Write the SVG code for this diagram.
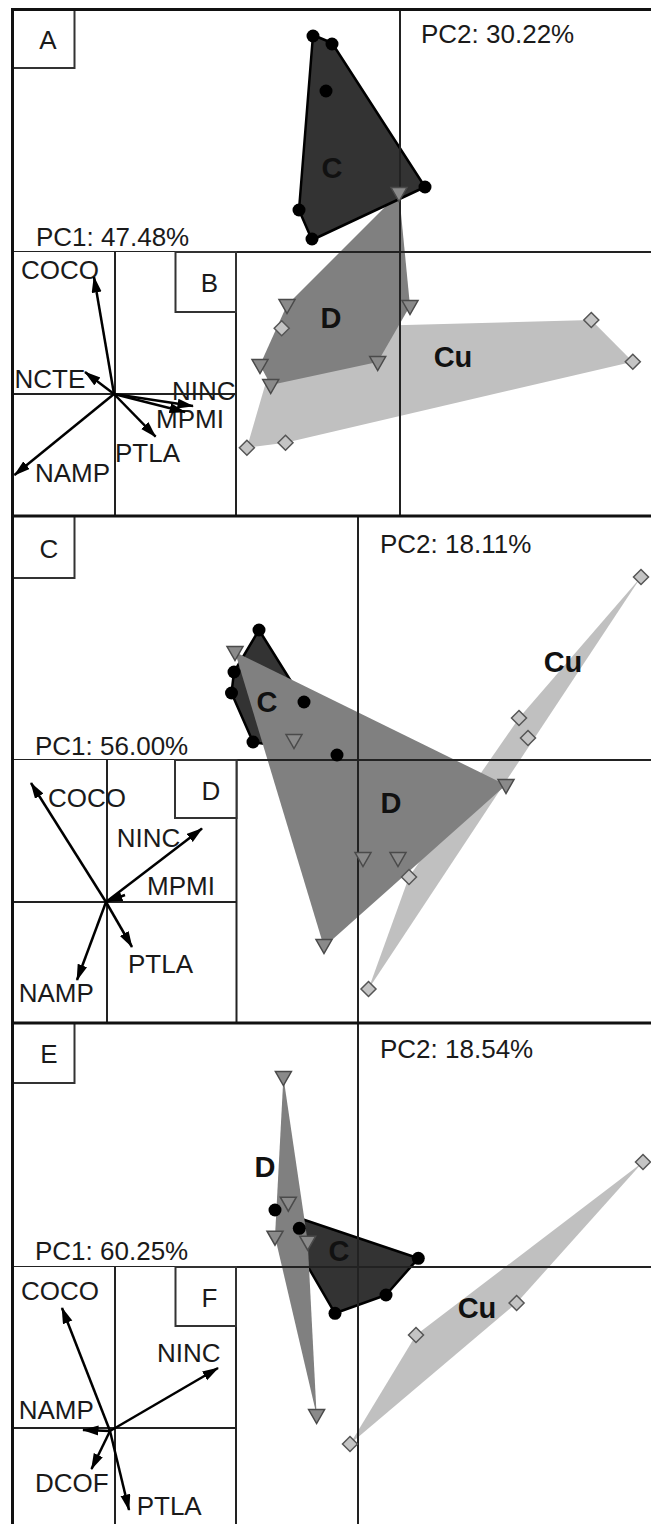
<svg xmlns="http://www.w3.org/2000/svg" width="651" height="1524" viewBox="0 0 651 1524">
<defs>
<style>
.t{font-family:"Liberation Sans",Arial,Helvetica,sans-serif;font-size:26px;fill:#1a1a1a}
.m{text-anchor:middle}
.g{font-family:"Liberation Sans",Arial,Helvetica,sans-serif;font-size:29px;font-weight:bold;fill:#111;text-anchor:middle}
.frame{stroke:#111;stroke-width:3;fill:none}
.ax{stroke:#222;stroke-width:2;fill:none}
.box{stroke:#333;stroke-width:2;fill:#fff}
.cu{fill:#c0c0c0}
.d{fill:#808080}
.c{fill:#333;stroke:#000;stroke-width:2.5;stroke-linejoin:round}
.arr{stroke:#000;stroke-width:2.5;fill:none;marker-end:url(#ah)}
.dot{fill:#000}
</style>
<marker id="ah" markerUnits="userSpaceOnUse" markerWidth="18" markerHeight="12" refX="15.5" refY="5" orient="auto"><path d="M0,0 L16.5,5 L0,10 z" fill="#000"/></marker>
<path id="tri" d="M-8,-5.5 L8,-5.5 L0,8.5 z" fill="#8a8a8a" stroke="#4a4a4a" stroke-width="1.5"/>
<path id="dia" d="M0,-7.5 L7.5,0 L0,7.5 L-7.5,0 z" fill="#c4c4c4" stroke="#555" stroke-width="1.5"/>
</defs>
<rect x="0" y="0" width="651" height="1524" fill="#fff"/>

<!-- Panel A -->
<g id="panelA">
<polygon class="cu" points="281.7,328.3 591.3,320 632.8,361.7 285.5,442.7 246.9,447.7"/>
<polygon class="d" points="399,193 410,306 377.7,362 270.7,385 260,365 287,305"/>
<polygon class="c" points="313,35 332,43 425,187 312,240 299,210"/>
<line class="ax" x1="400" y1="9.5" x2="400" y2="516"/>
<line class="ax" x1="12.5" y1="252" x2="651" y2="252"/>
<rect class="box" x="12.5" y="9.5" width="62" height="58.5"/>
<text class="t m" x="48" y="49">A</text>
<text class="t" x="421" y="43">PC2: 30.22%</text>
<text class="t" x="36" y="246">PC1: 47.48%</text>
<g id="A_markers">
<use href="#tri" x="399" y="193"/>
<use href="#tri" x="287" y="305"/>
<use href="#tri" x="410" y="306"/>
<use href="#tri" x="260" y="365"/>
<use href="#tri" x="270.7" y="385"/>
<use href="#tri" x="377.7" y="362"/>
<use href="#dia" x="281.7" y="328.3"/>
<use href="#dia" x="591.3" y="320"/>
<use href="#dia" x="632.8" y="361.7"/>
<use href="#dia" x="285.5" y="442.7"/>
<use href="#dia" x="246.9" y="447.7"/>
<circle class="dot" cx="313" cy="36" r="6.5"/>
<circle class="dot" cx="332" cy="44" r="6.5"/>
<circle class="dot" cx="326" cy="91" r="6.5"/>
<circle class="dot" cx="425" cy="187" r="6.5"/>
<circle class="dot" cx="299" cy="210" r="6.5"/>
<circle class="dot" cx="312" cy="239" r="6.5"/>
</g>
<text class="g" x="332" y="178">C</text>
<text class="g" x="331" y="328">D</text>
<text class="g" x="453" y="367">Cu</text>
</g>

<!-- Inset B -->
<g id="insetB">
<rect x="12.5" y="252" width="223.5" height="264" fill="#fff" stroke="none"/>
<line class="ax" x1="236" y1="252" x2="236" y2="516"/>
<line class="ax" x1="115" y1="252" x2="115" y2="516"/>
<line class="ax" x1="12.5" y1="394" x2="236" y2="394"/>
<rect class="box" x="175.5" y="252" width="60.5" height="60"/>
<text class="t m" x="209.5" y="292">B</text>
<text class="t" x="21" y="279">COCO</text>
<text class="t" x="14.5" y="388">NCTE</text>
<text class="t" x="172" y="400">NINC</text>
<text class="t" x="156" y="428">MPMI</text>
<text class="t" x="115" y="462">PTLA</text>
<text class="t" x="35" y="482">NAMP</text>
</g>

<!-- Panel C -->
<g id="panelC">
<polygon class="cu" points="368.5,989 409,877 519,718 641,577"/>
<polygon class="c" points="259,630 337,755 253,742 231.5,693 234,672"/>
<polygon class="d" points="235,652 506,785 324,947"/>
<line class="ax" x1="358" y1="516" x2="358" y2="1023"/>
<line class="ax" x1="12.5" y1="760" x2="651" y2="760"/>
<rect class="box" x="12.5" y="516" width="62" height="62"/>
<text class="t m" x="49" y="558">C</text>
<text class="t" x="380" y="553">PC2: 18.11%</text>
<text class="t" x="35" y="755">PC1: 56.00%</text>
<g id="C_markers">
<use href="#tri" x="235" y="652"/>
<use href="#tri" x="294" y="740"/>
<use href="#tri" x="506" y="785"/>
<use href="#tri" x="363" y="858"/>
<use href="#tri" x="398" y="858"/>
<use href="#tri" x="324" y="945"/>
<use href="#dia" x="641" y="577"/>
<use href="#dia" x="519" y="718"/>
<use href="#dia" x="528" y="738"/>
<use href="#dia" x="409" y="877"/>
<use href="#dia" x="368.5" y="989"/>
<circle class="dot" cx="259" cy="630" r="6.5"/>
<circle class="dot" cx="234" cy="672" r="6.5"/>
<circle class="dot" cx="231.5" cy="693" r="6.5"/>
<circle class="dot" cx="253" cy="742" r="6.5"/>
<circle class="dot" cx="304" cy="702" r="6.5"/>
<circle class="dot" cx="337" cy="755" r="6.5"/>
</g>
<text class="g" x="267" y="712">C</text>
<text class="g" x="391" y="813">D</text>
<text class="g" x="563" y="672">Cu</text>
</g>

<!-- Inset D -->
<g id="insetD">
<rect x="12.5" y="760" width="224" height="263" fill="#fff" stroke="none"/>
<line class="ax" x1="236.5" y1="760" x2="236.5" y2="1023"/>
<line class="ax" x1="107" y1="760" x2="107" y2="1023"/>
<line class="ax" x1="12.5" y1="902" x2="236.5" y2="902"/>
<rect class="box" x="175" y="760" width="61.5" height="58"/>
<text class="t m" x="211" y="800">D</text>
<text class="t" x="48" y="807">COCO</text>
<text class="t" x="116.7" y="847">NINC</text>
<text class="t" x="147" y="895">MPMI</text>
<text class="t" x="128" y="973">PTLA</text>
<text class="t" x="18.7" y="1002">NAMP</text>
</g>

<!-- Panel E -->
<g id="panelE">
<polygon class="cu" points="350,1444 416,1335 643,1162 516.6,1303"/>
<polygon class="c" points="275,1210 418.3,1258.3 386,1295 335,1313.3"/>
<polygon class="d" points="283.4,1077 307.7,1241.7 316.6,1415 275,1236.7"/>
<line class="ax" x1="358" y1="1023" x2="358" y2="1524"/>
<line class="ax" x1="12.5" y1="1267" x2="651" y2="1267"/>
<rect class="box" x="12.5" y="1023" width="62" height="60"/>
<text class="t m" x="49" y="1063">E</text>
<text class="t" x="380" y="1058">PC2: 18.54%</text>
<text class="t" x="35" y="1260">PC1: 60.25%</text>
<g id="E_markers">
<use href="#tri" x="283.4" y="1077"/>
<use href="#tri" x="288.3" y="1202.7"/>
<use href="#tri" x="275" y="1236.7"/>
<use href="#tri" x="307.7" y="1241.7"/>
<use href="#tri" x="316.6" y="1415"/>
<use href="#dia" x="643" y="1162"/>
<use href="#dia" x="516.6" y="1303"/>
<use href="#dia" x="416" y="1335"/>
<use href="#dia" x="350" y="1444"/>
<circle class="dot" cx="275" cy="1210" r="6.5"/>
<circle class="dot" cx="299.3" cy="1228.3" r="6.5"/>
<circle class="dot" cx="418.3" cy="1258.3" r="6.5"/>
<circle class="dot" cx="386" cy="1295" r="6.5"/>
<circle class="dot" cx="335" cy="1313.3" r="6.5"/>
</g>
<text class="g" x="339" y="1261">C</text>
<text class="g" x="265" y="1177">D</text>
<text class="g" x="477" y="1318">Cu</text>
</g>

<!-- Inset F -->
<g id="insetF">
<rect x="12.5" y="1267" width="223.5" height="257" fill="#fff" stroke="none"/>
<line class="ax" x1="236" y1="1267" x2="236" y2="1524"/>
<line class="ax" x1="115" y1="1267" x2="115" y2="1524"/>
<line class="ax" x1="12.5" y1="1428" x2="236" y2="1428"/>
<rect class="box" x="175.5" y="1267" width="60.5" height="59"/>
<text class="t m" x="209.5" y="1307">F</text>
<text class="t" x="21" y="1300">COCO</text>
<text class="t" x="157" y="1362">NINC</text>
<text class="t" x="18.7" y="1419">NAMP</text>
<text class="t" x="35" y="1492">DCOF</text>
<text class="t" x="136.7" y="1515">PTLA</text>
</g>

<!-- Loading arrows -->
<g id="arrows">
<line class="arr" x1="114" y1="394" x2="94" y2="277"/>
<line class="arr" x1="114" y1="394" x2="85" y2="372"/>
<line class="arr" x1="114" y1="394" x2="193" y2="406"/>
<line class="arr" x1="114" y1="394" x2="185" y2="412"/>
<line class="arr" x1="114" y1="394" x2="155.6" y2="436.7"/>
<line class="arr" x1="114" y1="394" x2="14.5" y2="475"/>

<line class="arr" x1="106" y1="902" x2="31" y2="783"/>
<line class="arr" x1="106" y1="902" x2="202" y2="828.5"/>
<line class="arr" x1="125" y1="895" x2="107" y2="901.5"/>
<line class="arr" x1="106" y1="902" x2="132" y2="947"/>
<line class="arr" x1="106" y1="902" x2="77" y2="980"/>

<line class="arr" x1="110" y1="1431" x2="62" y2="1308"/>
<line class="arr" x1="110" y1="1431" x2="218" y2="1368"/>
<line class="arr" x1="110" y1="1431" x2="83" y2="1430"/>
<line class="arr" x1="110" y1="1431" x2="91.5" y2="1469"/>
<line class="arr" x1="110" y1="1431" x2="129" y2="1510"/>
</g>

<!-- Frame -->
<g id="frame">
<line class="frame" x1="11" y1="9.5" x2="651" y2="9.5"/>
<line class="frame" x1="12.5" y1="8" x2="12.5" y2="1524"/>
<line class="frame" x1="12.5" y1="516" x2="651" y2="516"/>
<line class="frame" x1="12.5" y1="1023" x2="651" y2="1023"/>
</g>
</svg>
